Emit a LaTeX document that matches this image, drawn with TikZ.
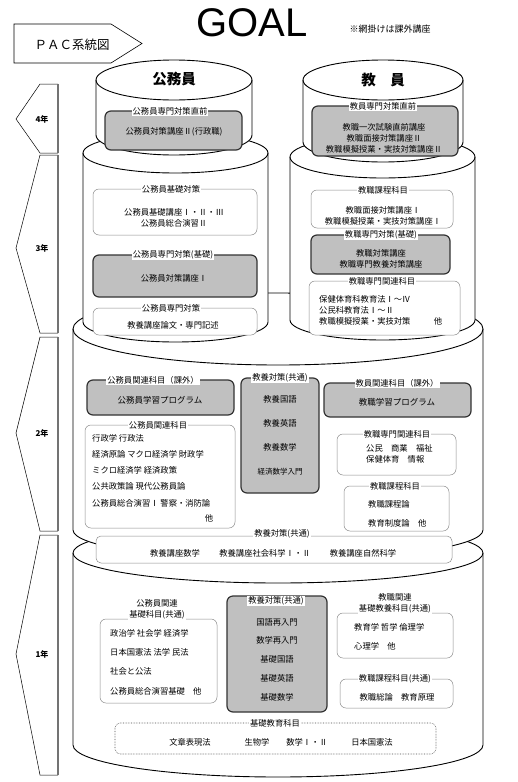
\documentclass[tikz,border=0pt]{standalone}
\usepackage{fontspec}
\setmainfont{Noto Sans CJK JP}
\newfontfamily\goalfont{Liberation Sans}
\definecolor{pacgray}{HTML}{C0C0C0}
\tikzset{every node/.style={font=\fontsize{8.3}{11}\selectfont,inner sep=0pt},
  drum/.style={draw=black,fill=white,line width=0.9pt},
  optbox/.style={draw=black!80,fill=pacgray,line width=1.2pt,rounded corners=6pt},
  subjbox/.style={draw=black!45,fill=white,line width=0.5pt,rounded corners=6pt},
  basebox/.style={draw=black!70,fill=white,line width=0.6pt,densely dotted,rounded corners=5pt},
  boxtitle/.style={fill=white,inner sep=1pt},
  yeartab/.style={draw=black,fill=white,line width=0.5pt},
  yearlabel/.style={font=\bfseries\fontsize{8}{10}\selectfont},
  heading/.style={font=\bfseries\fontsize{14.5}{16}\selectfont}}

% cylinder: cx, rx, top y, top ry, bottom y, bottom ry
\newcommand{\pacdrum}[6]{%
  \path[drum] (#1-#2,#3) -- (#1-#2,#5)
    arc[start angle=180,end angle=0,x radius=#2,y radius=#6]
    -- (#1+#2,#3)
    arc[start angle=0,end angle=-180,x radius=#2,y radius=#4] -- cycle;
  \draw[line width=0.9pt] (#1-#2,#3)
    arc[start angle=180,end angle=0,x radius=#2,y radius=#4];}

\begin{document}
\begin{tikzpicture}[x=1pt,y=-1pt]
  \path[use as bounding box] (0,0) rectangle (518,782);

  % title
  \node (goal) at (252,23) {\goalfont\fontsize{40}{40}\selectfont GOAL};
  \node[font=\fontsize{9}{10}\selectfont] (note) at (390,29) {※網掛けは課外講座};
  \draw[line width=0.6pt] (14,24) -- (111,24) -- (142,43.5) -- (111,63) -- (14,63) -- cycle;
  \node[font=\fontsize{12.5}{14}\selectfont] (pac) at (72,45) {ＰＡＣ系統図};

  % year tabs
  \foreach \yy/\ya/\yb/\yc in {4/84/119/153, 3/155/248/333, 2/337/433/531, 1/535/654/775}{
    \path[yeartab] (58,\ya) -- (40,\ya) -- (16,\yb) -- (40,\yc) -- (58,\yc);
    \draw[black!55,line width=1.4pt] (58,\ya) -- (58,\yc);
    \node[yearlabel] (year\yy) at (42,\yb) {\yy 年};
  }

  % cylinders, lowest first
  \pacdrum{278}{205}{553}{30}{745}{32}
  \pacdrum{278}{205}{329}{36}{530}{30}
  \pacdrum{175.5}{92.5}{153}{20}{322}{20}
  \pacdrum{382.5}{92.5}{157}{21}{320}{20}
  \pacdrum{174}{78}{80}{20}{135}{20}
  \pacdrum{383}{80}{80}{20}{142}{20}

  \node[heading] (koumuin) at (174,79) {公務員};
  \node[heading] (kyouin) at (383,80) {教　員};

  % 4th year
  \draw[optbox] (105,111) rectangle (242,150);
  \node[boxtitle] (k4t) at (170,111) {公務員専門対策直前};
  \node (k4) at (174,132) {公務員対策講座Ⅱ(行政職)};
  \draw[optbox] (312,106) rectangle (458,156);
  \node[boxtitle] (e4t) at (383,106) {教員専門対策直前};
  \node[align=center] (e4) at (384,138) {教職一次試験直前講座\\教職面接対策講座Ⅱ\\教職模擬授業・実技対策講座Ⅱ};

  % 3rd year
  \draw[subjbox] (93,189) rectangle (257,235);
  \node[boxtitle] (k3at) at (171,189) {公務員基礎対策};
  \node[align=center] (k3a) at (174,217.5) {公務員基礎講座Ⅰ・Ⅱ・Ⅲ\\公務員総合演習Ⅱ};
  \draw[optbox] (93,255) rectangle (257,297);
  \node[boxtitle] (k3bt) at (173,255) {公務員専門対策(基礎)};
  \node (k3b) at (174,278) {公務員対策講座Ⅰ};
  \draw[subjbox] (93,308) rectangle (257,335);
  \node[boxtitle] (k3ct) at (171,308) {公務員専門対策};
  \node (k3c) at (173,325) {教養講座論文・専門記述};

  \draw[subjbox] (311,190) rectangle (453,228);
  \node[boxtitle] (e3at) at (383,190) {教職課程科目};
  \node[align=center] (e3a) at (383,215.5) {教職面接対策講座Ⅰ\\教職模擬授業・実技対策講座Ⅰ};
  \draw[optbox] (311,235) rectangle (450,274);
  \node[boxtitle] (e3bt) at (381,235) {教職専門対策(基礎)};
  \node[align=center] (e3b) at (381,258.5) {教職対策講座\\教職専門教養対策講座};
  \draw[subjbox] (309,281) rectangle (460,335);
  \node[boxtitle] (e3ct) at (382,281) {教職専門関連科目};
  \node[align=left,anchor=west] (e3c) at (319,310) {保健体育科教育法Ⅰ～Ⅳ\\公民科教育法Ⅰ～Ⅱ\\教職模擬授業・実技対策};
  \node (e3etc) at (438,321) {他};

  % 2nd year
  \draw[optbox] (87,380) rectangle (234,415);
  \node[boxtitle] (k2at) at (153,380) {公務員関連科目（課外）};
  \node[font=\fontsize{8.5}{10}\selectfont] (k2a) at (160,400) {公務員学習プログラム};
  \draw[subjbox] (85,425) rectangle (235,528);
  \node[boxtitle] (k2bt) at (158,425) {公務員関連科目};
  \node[align=left,anchor=west,font=\fontsize{8.3}{16.25}\selectfont] (k2b) at (92,470.5)
    {行政学 行政法\\経済原論 マクロ経済学 財政学\\ミクロ経済学 経済政策\\公共政策論 現代公務員論\\公務員総合演習Ⅰ 警察・消防論};
  \node (k2etc) at (209,518) {他};

  \draw[optbox] (241,378) rectangle (319,493);
  \node[boxtitle] (c2t) at (280,378) {教養対策(共通)};
  \node[align=center,font=\fontsize{8.3}{24}\selectfont] (c2) at (280,423) {教養国語\\教養英語\\教養数学};
  \node[font=\fontsize{7.5}{9}\selectfont] (c2m) at (280,472) {経済数学入門};

  \draw[optbox] (324,383) rectangle (471,417);
  \node[boxtitle] (e2at) at (397,383) {教員関連科目（課外）};
  \node[font=\fontsize{8.5}{10}\selectfont] (e2a) at (397,402) {教職学習プログラム};
  \draw[subjbox] (337,434) rectangle (456,475);
  \node[boxtitle] (e2bt) at (397,434) {教職専門関連科目};
  \node[align=left,anchor=west] (e2b) at (366,453.5) {公民　商業　福祉\\保健体育　情報};
  \draw[subjbox] (344,486) rectangle (449,531);
  \node[boxtitle] (e2ct) at (395,486) {教職課程科目};
  \node[align=left,anchor=west,font=\fontsize{8.3}{19}\selectfont] (e2c) at (368,513.5) {教職課程論\\教育制度論　他};

  % common bar between 2nd and 1st year
  \draw[subjbox,rounded corners=5pt] (96,536) rectangle (452,563);
  \node[boxtitle] (cbt) at (282,534) {教養対策(共通)};
  \node (cb1) at (175,553) {教養講座数学};
  \node (cb2) at (265,553) {教養講座社会科学Ⅰ・Ⅱ};
  \node (cb3) at (363,553) {教養講座自然科学};

  % 1st year
  \draw[subjbox] (100,619) rectangle (217,703);
  \node[boxtitle,align=center] (k1t) at (157,609.5) {公務員関連\\基礎科目(共通)};
  \node[align=left,anchor=west,font=\fontsize{8.3}{19.3}\selectfont] (k1) at (110,662)
    {政治学 社会学 経済学\\日本国憲法 法学 民法\\社会と公法\\公務員総合演習基礎　他};

  \draw[optbox] (227,596) rectangle (327,712);
  \node[boxtitle] (c1t) at (276,601) {教養対策(共通)};
  \node[align=center,font=\fontsize{8.3}{18.75}\selectfont] (c1) at (277,659.5)
    {国語再入門\\数学再入門\\基礎国語\\基礎英語\\基礎数学};

  \draw[subjbox] (337,613) rectangle (453,658);
  \node[boxtitle,align=center] (e1at) at (395,603) {教職関連\\基礎教養科目(共通)};
  \node[align=left,anchor=west,font=\fontsize{8.3}{19}\selectfont] (e1a) at (354,636.5) {教育学 哲学 倫理学\\心理学　他};
  \draw[subjbox] (340,679) rectangle (453,708);
  \node[boxtitle] (e1bt) at (395,679) {教職課程科目(共通)};
  \node (e1b) at (397,697) {教職総論　教育原理};

  \draw[basebox] (115,723) rectangle (436,754);
  \node[boxtitle] (b1t) at (275,723) {基礎教育科目};
  \node (b1) at (190,742) {文章表現法};
  \node (b2) at (257,742) {生物学};
  \node (b3) at (307,742) {数学Ⅰ・Ⅱ};
  \node (b4) at (372,742) {日本国憲法};
\end{tikzpicture}
\end{document}
